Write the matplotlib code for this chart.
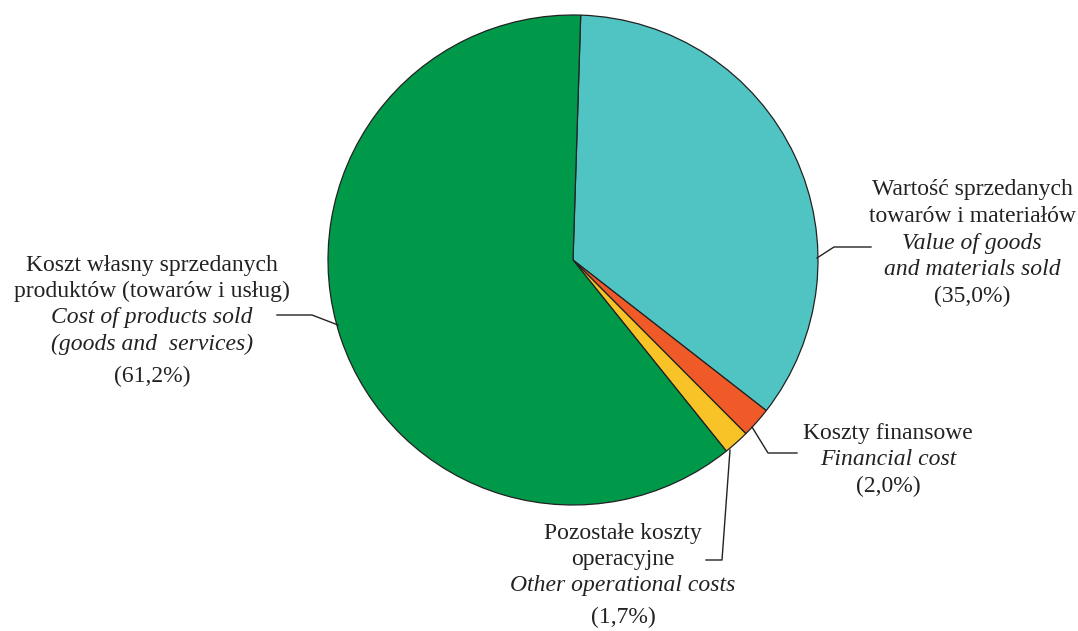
import matplotlib
matplotlib.use("Agg")
import matplotlib.pyplot as plt

# ---- data ----
values = [35.0, 2.0, 1.7, 61.2]
labels_pl = ["Wartość sprzedanych\ntowarów i materiałów",
             "Koszty finansowe",
             "Pozostałe koszty\noperacyjne",
             "Koszt własny sprzedanych\nproduktów (towarów i usług)"]
labels_en = ["Value of goods\nand materials sold",
             "Financial cost",
             "Other operational costs",
             "Cost of products sold\n(goods and  services)"]
colors = ["#50C4C3", "#F05A28", "#F8C326", "#00994A"]

W, H = 1078, 631
plt.rcParams['font.family'] = ['Liberation Serif', 'DejaVu Serif']
fig = plt.figure(figsize=(W / 100, H / 100), dpi=100)
ax = fig.add_axes([0, 0, 1, 1])

def Y(y):
    return H - y

ax.pie(values, colors=colors, startangle=88.2, counterclock=False,
       center=(573, Y(260)), radius=245, frame=True,
       wedgeprops=dict(edgecolor='#222222', linewidth=0.9))
ax.set_xlim(0, W)
ax.set_ylim(0, H)
ax.set_aspect('equal')
ax.axis('off')

fs = 17
lh = 26.5

# label layout: (center x, top line y, gap before pct, leader polyline)
layout = [
    (972, 190, 0, [(817, 258), (834, 247), (871, 247)]),
    (888, 433, 0, [(752, 427), (768, 453), (797, 453)]),
    (623, 533, 5, [(730, 450), (722, 560), (706, 560)]),
    (152, 265, 5, [(338, 325), (312, 315), (277, 315)]),
]

for v, pl, en, (cx, ty, gap, pts) in zip(values, labels_pl, labels_en, layout):
    y = ty
    for line in pl.split("\n"):
        ax.text(cx, Y(y), line, ha='center', va='center', fontsize=fs, color='#222222')
        y += lh
    for line in en.split("\n"):
        ax.text(cx, Y(y), line, ha='center', va='center', fontsize=fs,
                style='italic', color='#222222')
        y += lh
    y += gap
    ax.text(cx, Y(y), f"({v:.1f}%)".replace('.', ','), ha='center', va='center',
            fontsize=fs, color='#222222')
    xs = [p[0] for p in pts]
    ys = [Y(p[1]) for p in pts]
    ax.plot(xs, ys, color='#222222', linewidth=1.0)

fig.savefig("out.png", dpi=100, facecolor='white')
